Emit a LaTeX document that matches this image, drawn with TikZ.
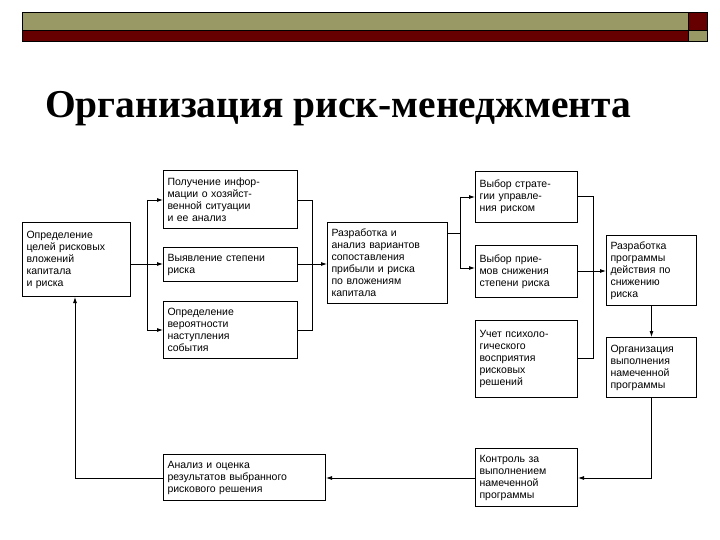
\documentclass[tikz,border=0pt]{standalone}
\usepackage{fontspec}
\setmainfont{Liberation Serif}
\newfontfamily\boxfont{Liberation Sans}
\usetikzlibrary{arrows.meta}
\definecolor{olive}{RGB}{153,153,102}
\definecolor{dred}{RGB}{102,0,0}
\begin{document}
\begin{tikzpicture}[x=1pt,y=-1pt,
  bx/.style={draw,line width=1pt,inner sep=0pt,anchor=north west,align=left,font=\boxfont\fontsize{10.5}{12}\selectfont},
  ar/.style={-{Latex[length=6pt,width=4pt]},line width=0.8pt},
  ln/.style={line width=0.8pt}]
\useasboundingbox (0,0) rectangle (720,540);
\fill[olive,draw=black] (22,12) rectangle (688,30);
\fill[dred,draw=black] (22,30) rectangle (688,41);
\fill[dred,draw=black] (688,12) rectangle (707,30);
\fill[olive,draw=black] (688,30) rectangle (707,41);
\node[anchor=base west,inner sep=0pt,font=\bfseries\fontsize{39.5}{39.5}\selectfont] (title) at (45,118) {Организация риск-менеджмента};
\newcommand\mkbox[6]{\node[bx,minimum width=#4-#2,minimum height=#5-#3,text width=#4-#2-8,inner xsep=4pt] (#1) at (#2,#3) {#6};}
\mkbox{A}{22}{222}{130}{296}{Определение\\целей рисковых\\вложений\\капитала\\и риска}
\mkbox{B1}{163}{170}{297}{228}{Получение инфор-\\мации о хозяйст-\\венной ситуации\\и ее анализ}
\mkbox{B2}{163}{247}{297}{281}{Выявление степени\\риска}
\mkbox{B3}{163}{301}{297}{358}{Определение\\вероятности\\наступления\\события}
\mkbox{C}{327}{222}{447}{303}{Разработка и\\анализ вариантов\\сопоставления\\прибыли и риска\\по вложениям\\капитала}
\mkbox{D1}{475}{171}{577}{222}{Выбор страте-\\гии управле-\\ния риском}
\mkbox{D2}{475}{245}{577}{297}{Выбор прие-\\мов снижения\\степени риска}
\mkbox{D3}{475}{320}{577}{397}{Учет психоло-\\гического\\восприятия\\рисковых\\решений}
\mkbox{E1}{606}{235}{696}{305}{Разработка\\программы\\действия по\\снижению\\риска}
\mkbox{E2}{606}{337}{696}{397}{Организация\\выполнения\\намеченной\\программы}
\mkbox{F}{475}{448}{577}{506}{Контроль за\\выполнением\\намеченной\\программы}
\mkbox{G}{163}{454}{325}{500}{Анализ и оценка\\результатов выбранного\\рискового решения}
\coordinate (sA) at (147,264);
% A -> B
\draw[ln] (A.east|-sA) -- (sA);
\draw[ln] (147,200) -- (147,330);
\draw[ar] (147,200) -- (B1.west|-0,200);
\draw[ar] (sA) -- (B2.west|-sA);
\draw[ar] (147,330) -- (B3.west|-0,330);
% B -> C
\draw[ln] (B1.east|-0,200) -- (312,200) -- (312,330) -- (B3.east|-0,330);
\draw[ar] (B2.east|-0,264) -- (C.west|-0,264);
% C -> D
\draw[ln] (C.east|-0,233) -- (460,233);
\draw[ln] (460,197) -- (460,268);
\draw[ar] (460,197) -- (D1.west|-0,197);
\draw[ar] (460,268) -- (D2.west|-0,268);
% D -> E1
\draw[ln] (D1.east|-0,196) -- (593,196) -- (593,358) -- (D3.east|-0,358);
\draw[ar] (D2.east|-0,271) -- (E1.west|-0,271);
\draw[ar] (E1.south) -- (E2.north);
\draw[ar] (E2.south) |- (F.east|-0,478);
\draw[ar] (F.west|-0,478) -- (G.east|-0,478);
\draw[ar] (G.west|-0,478) -- (75,478) -- (A.south-|75,0);
\end{tikzpicture}
\end{document}
